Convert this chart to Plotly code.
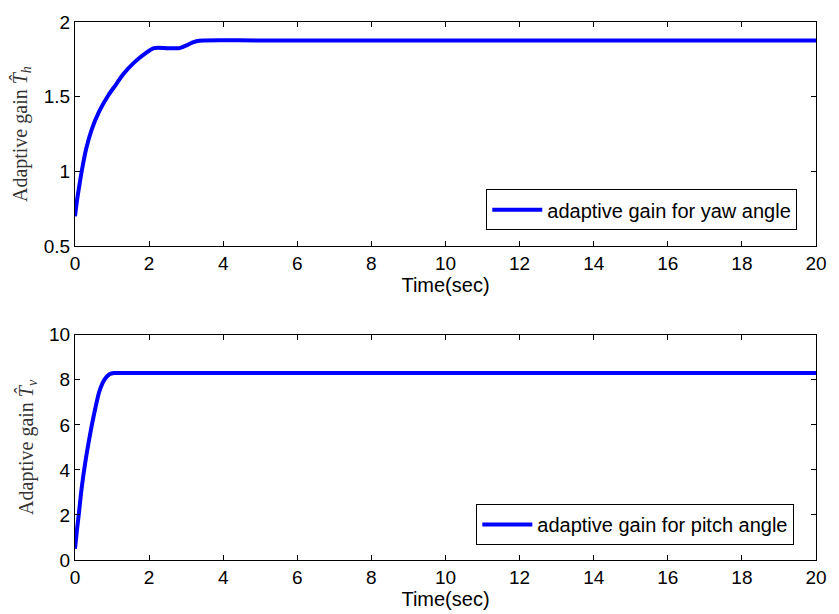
import plotly.graph_objects as go
from plotly.subplots import make_subplots

# Top: adaptive gain for yaw angle
t_yaw = [0, 0.05, 0.1, 0.18, 0.3, 0.45, 0.65, 0.9, 1.1, 1.3, 1.6, 1.9, 2.13, 2.5,
         2.8, 2.9, 3.05, 3.2, 3.35, 3.5, 5, 10, 20]
g_yaw = [0.70, 0.80, 0.88, 1.0, 1.15, 1.28, 1.40, 1.51, 1.58, 1.65, 1.73, 1.79, 1.825, 1.825,
         1.825, 1.832, 1.848, 1.865, 1.875, 1.877, 1.877, 1.877, 1.877]

# Bottom: adaptive gain for pitch angle
t_pitch = [0, 0.05, 0.1, 0.18, 0.27, 0.36, 0.45, 0.55, 0.66, 0.8, 0.93, 1.06, 1.3, 3, 10, 20]
g_pitch = [0.5, 1.3, 2.0, 3.2, 4.25, 5.15, 5.95, 6.75, 7.5, 8.02, 8.25, 8.30, 8.30, 8.30, 8.30, 8.30]

x_ticks = [0, 2, 4, 6, 8, 10, 12, 14, 16, 18, 20]
y1_ticks = [0.5, 1, 1.5, 2]
y1_labels = ["0.5", "1", "1.5", "2"]
y2_ticks = [0, 2, 4, 6, 8, 10]

W, H = 839, 614
ml, mr, mt, mb = 75, 12, 15, 52
ph = H - mt - mb
pw = W - ml - mr

fig = make_subplots(rows=2, cols=1)
fig.add_trace(go.Scatter(x=t_yaw, y=g_yaw, mode="lines",
                         line=dict(color="#0000ff", width=4, shape="spline", smoothing=0.8),
                         name="adaptive gain for yaw angle", legend="legend"), row=1, col=1)
fig.add_trace(go.Scatter(x=t_pitch, y=g_pitch, mode="lines",
                         line=dict(color="#0000ff", width=4, shape="spline", smoothing=0.8),
                         name="adaptive gain for pitch angle", legend="legend2"), row=2, col=1)

sans = "Liberation Sans, Arial, sans-serif"
tickfont = dict(family=sans, size=19, color="black")
titlefont = dict(family=sans, size=20, color="black")
serif = dict(family="Liberation Serif, serif", size=20, color="#333")
axcommon = dict(showline=True, linecolor="black", linewidth=1, mirror="ticks", ticks="inside",
                ticklen=5, tickcolor="black", showgrid=False, zeroline=False, tickfont=tickfont)

dom1 = [(H - mb - 243) / ph, 1]
dom2 = [0, (H - mb - 333) / ph]

legfont = dict(family=sans, size=20, color="black")

fig.update_layout(
    width=W, height=H, margin=dict(l=ml, r=mr, t=mt, b=mb),
    paper_bgcolor="white", plot_bgcolor="white", showlegend=True,
    xaxis=dict(range=[0, 20], tickvals=x_ticks, **axcommon,
               title=dict(text="Time(sec)", font=titlefont, standoff=0)),
    xaxis2=dict(range=[0, 20], tickvals=x_ticks, **axcommon,
                title=dict(text="Time(sec)", font=titlefont, standoff=0)),
    yaxis=dict(range=[0.5, 2], tickvals=y1_ticks, ticktext=y1_labels, domain=dom1, **axcommon,
               title=dict(text="Adaptive gain <i>T&#770;</i><sub><i>h</i></sub>",
                          font=serif, standoff=10)),
    yaxis2=dict(range=[0, 10], tickvals=y2_ticks, domain=dom2, **axcommon,
                title=dict(text="Adaptive gain <i>T&#770;</i><sub><i>v</i></sub>",
                           font=serif, standoff=10)),
    legend=dict(x=(808 - ml) / pw, y=(H - mb - 185) / ph, xanchor="right", yanchor="top",
                bordercolor="black", borderwidth=1, bgcolor="white", font=legfont, itemwidth=50),
    legend2=dict(x=(805 - ml) / pw, y=(H - mb - 505) / ph, xanchor="right", yanchor="top",
                 bordercolor="black", borderwidth=1, bgcolor="white", font=legfont, itemwidth=50),
)

fig.write_html("out.html")
